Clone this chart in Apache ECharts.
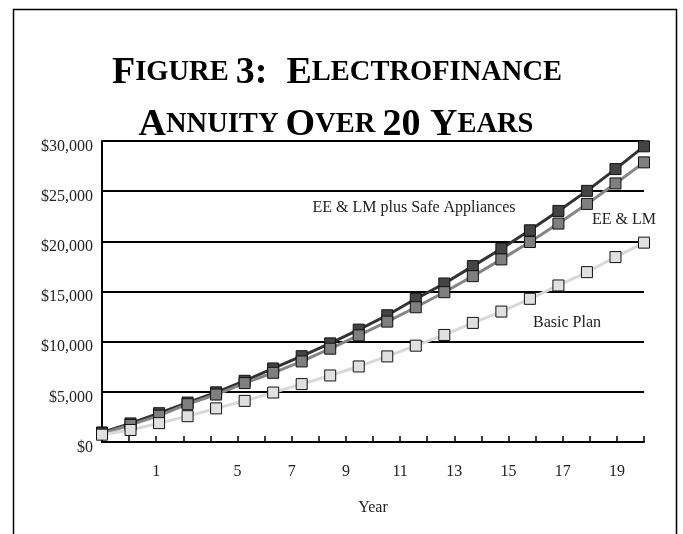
<!DOCTYPE html>
<html><head><meta charset="utf-8">
<script src="https://cdn.jsdelivr.net/npm/echarts@6/dist/echarts.min.js"></script>
<style>html,body{margin:0;padding:0;background:#fff}#c{width:683px;height:534px}</style>
</head><body><div id="c"></div>
<script>
const years = [1,2,3,4,5,6,7,8,9,10,11,12,13,14,15,16,17,18,19,20];
const safeAppliances = [950,1850,2870,3930,4950,6100,7330,8550,9830,11200,12630,14270,15800,17530,19270,21100,23030,25030,27200,29470];
const eeLm = [850,1700,2630,3770,4730,5870,6900,8030,9300,10630,12000,13430,14930,16530,18200,19930,21770,23730,25770,27870];
const basicPlan = [730,1200,1880,2570,3350,4100,4930,5770,6630,7530,8530,9600,10670,11870,13000,14270,15600,16930,18430,19870];
const xTickLabels = ["","","1","","","5","","7","","9","","11","","13","","15","","17","","19",""];
const seriesNames = ["EE & LM plus Safe Appliances","EE & LM","Basic Plan"];
const titleLines = ['{a|F}{b|IGURE }{a|3:  E}{b|LECTROFINANCE}', '{a|A}{b|NNUITY }{a|O}{b|VER }{a|20 Y}{b|EARS}'];

const serif = "'Liberation Serif', 'Times New Roman', serif";
const chart = echarts.init(document.getElementById('c'), null, {renderer:'canvas'});
const pairs = arr => years.map((y,i)=>[y, arr[i]]);
const mkSeries = (name, data, line, fill) => ({
  name, type:'line', xAxisIndex:1, data: pairs(data),
  symbol:'rect', symbolSize:11, showSymbol:true,
  lineStyle:{color:line, width:3},
  itemStyle:{color:fill, borderColor:'#111', borderWidth:1},
  emphasis:{disabled:true}, z:2
});
const titleRich = {
  a:{fontFamily:serif, fontWeight:'bold', fontSize:38, fill:'#000'},
  b:{fontFamily:serif, fontWeight:'bold', fontSize:28.5, fill:'#000'}
};
chart.setOption({
  animation:false,
  backgroundColor:'#fff',
  grid:{left:102, right:39, top:141, bottom:92, containLabel:false},
  xAxis:[{
    type:'category', data:xTickLabels, boundaryGap:false,
    name:'Year', nameLocation:'middle', nameGap:58,
    nameTextStyle:{fontFamily:serif, fontSize:16, color:'#222'},
    axisLine:{lineStyle:{color:'#000', width:2}},
    axisTick:{show:true, inside:true, length:6, interval:0, lineStyle:{color:'#000', width:1.5}},
    axisLabel:{interval:0, margin:22, fontFamily:serif, fontSize:16, color:'#222'},
    splitLine:{show:false}
  },{
    type:'value', min:1, max:20, show:false
  }],
  yAxis:{
    type:'value', min:0, max:30000, interval:5000,
    axisLine:{show:true, lineStyle:{color:'#000', width:2}},
    axisTick:{show:false},
    axisLabel:{margin:9, fontFamily:serif, fontSize:16, color:'#222', verticalAlign:'top', lineHeight:11,
      formatter: v => '$' + v.toLocaleString('en-US')},
    splitLine:{show:true, lineStyle:{color:'#000', width:2}}
  },
  series:[
    mkSeries(seriesNames[0], safeAppliances, '#333333', '#444444'),
    mkSeries(seriesNames[1], eeLm, '#858585', '#7f7f7f'),
    mkSeries(seriesNames[2], basicPlan, '#d8d8d8', '#e0e0e0')
  ],
  graphic:[
    {type:'rect', silent:true, shape:{x:13.5, y:9.5, width:663, height:600},
     style:{fill:'none', stroke:'#000', lineWidth:1.5}},
    {type:'text', silent:true, x:337, y:73, style:{text:titleLines[0], rich:titleRich, textAlign:'center', textVerticalAlign:'middle'}},
    {type:'text', silent:true, x:336, y:125, style:{text:titleLines[1], rich:titleRich, textAlign:'center', textVerticalAlign:'middle'}},
    {type:'text', silent:true, x:414, y:208, style:{text:seriesNames[0], font:"16px "+serif, fill:'#222', textAlign:'center', textVerticalAlign:'middle'}},
    {type:'text', silent:true, x:624, y:220, style:{text:seriesNames[1], font:"16px "+serif, fill:'#222', textAlign:'center', textVerticalAlign:'middle'}},
    {type:'text', silent:true, x:567, y:323, style:{text:seriesNames[2], font:"16px "+serif, fill:'#222', textAlign:'center', textVerticalAlign:'middle'}}
  ]
});
</script></body></html>
